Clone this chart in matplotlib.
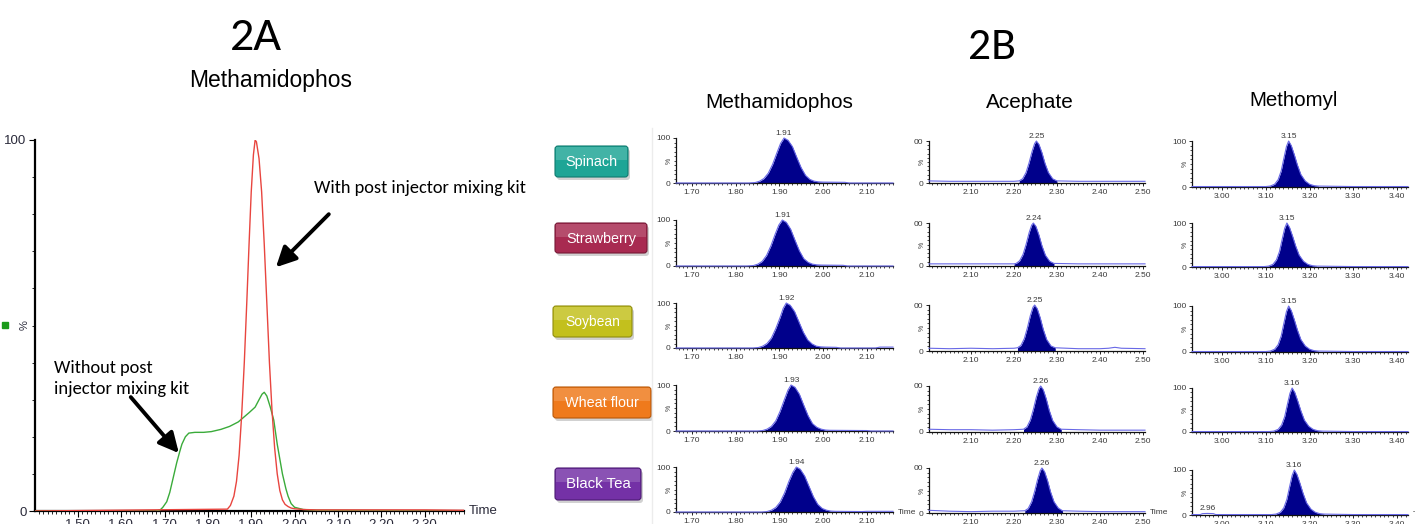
import matplotlib
matplotlib.use('Agg')
import matplotlib.pyplot as plt
from matplotlib import font_manager
from matplotlib.patches import FancyBboxPatch, Rectangle
from matplotlib.ticker import MultipleLocator
import numpy as np

# ---------------- DATA ----------------
# 2A : Methamidophos chromatograms (time in min, intensity in %)
A_GREEN_T = [1.401, 1.68, 1.69, 1.696, 1.705, 1.712, 1.72, 1.728, 1.735, 1.74, 1.748, 1.756, 1.77, 1.79,
             1.808, 1.83, 1.85, 1.87, 1.88, 1.895, 1.909, 1.918, 1.925, 1.93, 1.936, 1.944, 1.952, 1.96,
             1.966, 1.972, 1.98, 1.985, 1.992, 2.0, 2.02, 2.05, 2.391]
A_GREEN_Y = [0, 0, 0.3, 1, 2.5, 5, 9, 13, 16, 18, 20, 21, 21.2, 21.2,
             21.4, 22, 22.8, 24, 25, 26.5, 28, 30, 31.5, 32, 31, 28, 24.5, 18,
             14, 10, 6, 4, 2, 1, 0.4, 0.2, 0]
A_RED_T = [1.401, 1.845, 1.852, 1.86, 1.866, 1.872, 1.878, 1.884, 1.89, 1.895, 1.90, 1.905, 1.909,
           1.912, 1.918, 1.924, 1.93, 1.936, 1.942, 1.948, 1.954, 1.96, 1.966, 1.972, 1.978, 1.985,
           1.992, 2.0, 2.02, 2.05, 2.30, 2.391]
A_RED_Y = [0, 0.5, 1.5, 4, 8, 15, 26, 40, 57, 72, 86, 96, 100,
           99.5, 95, 86, 72, 56, 40, 27, 17, 10, 5.5, 3, 1.8, 1.2,
           0.8, 0.6, 0.4, 0.3, 0.3, 0.2]
A_XTICKS = [1.50, 1.60, 1.70, 1.80, 1.90, 2.00, 2.10, 2.20, 2.30]

# 2B : samples and compounds
SAMPLES = ['Spinach', 'Strawberry', 'Soybean', 'Wheat flour', 'Black Tea']
COMPOUNDS = ['Methamidophos', 'Acephate', 'Methomyl']

# Methamidophos
MET_SPI_T = [1.664, 1.83, 1.845, 1.855, 1.865, 1.875, 1.885, 1.895, 1.903, 1.911, 1.92, 1.93, 1.94, 1.95, 1.96, 1.97, 1.98, 1.99, 2.00, 2.05, 2.06, 2.16]
MET_SPI_Y = [0, 0, 1, 4, 10, 22, 42, 68, 88, 100, 95, 81, 57, 34, 17, 8, 4, 2.5, 2, 1.5, 0, 0]
MET_STR_T = [1.664, 1.826, 1.841, 1.851, 1.861, 1.871, 1.881, 1.891, 1.899, 1.907, 1.916, 1.926, 1.936, 1.946, 1.956, 1.966, 1.976, 1.986, 1.996, 2.046, 2.056, 2.16]
MET_STR_Y = [0, 0, 1, 4, 10, 23, 44, 70, 89, 100, 95, 80, 56, 33, 16, 8, 4, 2.5, 2, 1.5, 0, 0]
MET_SOY_T = [1.664, 1.84, 1.852, 1.862, 1.872, 1.882, 1.892, 1.902, 1.909, 1.916, 1.925, 1.935, 1.945, 1.955, 1.965, 1.975, 1.985, 1.995, 2.005, 2.03, 2.04, 2.12, 2.13, 2.16]
MET_SOY_Y = [0, 0, 1, 4, 10, 22, 43, 68, 88, 100, 95, 81, 58, 35, 18, 9, 4, 2.5, 2, 1.5, 0, 0, 2, 2]
MET_WHE_T = [1.664, 1.85, 1.862, 1.872, 1.882, 1.892, 1.902, 1.912, 1.92, 1.927, 1.936, 1.946, 1.956, 1.966, 1.976, 1.986, 1.996, 2.006, 2.016, 2.10, 2.11, 2.16]
MET_WHE_Y = [0, 0, 1, 4, 10, 22, 43, 69, 89, 100, 95, 80, 56, 33, 16, 8, 4, 2, 1.5, 1, 0, 0]
MET_BLK_T = [1.664, 1.86, 1.872, 1.882, 1.892, 1.902, 1.912, 1.922, 1.931, 1.939, 1.948, 1.958, 1.968, 1.978, 1.988, 1.998, 2.008, 2.018, 2.028, 2.09, 2.10, 2.16]
MET_BLK_Y = [0, 0, 1, 4, 10, 22, 42, 68, 88, 100, 95, 80, 57, 34, 17, 8, 4, 2, 1.5, 1, 1.5, 1.5]

# Acephate
ACE_SPI_T = [2.002, 2.05, 2.10, 2.15, 2.20, 2.212, 2.22, 2.228, 2.235, 2.242, 2.248, 2.252, 2.258, 2.265, 2.272, 2.28, 2.29, 2.30, 2.35, 2.40, 2.45, 2.505]
ACE_SPI_Y = [5, 4, 4, 4, 4, 5, 10, 25, 48, 75, 94, 100, 92, 72, 47, 25, 10, 5, 4, 4, 4, 4]
ACE_STR_T = [2.002, 2.05, 2.10, 2.15, 2.20, 2.205, 2.213, 2.221, 2.228, 2.235, 2.241, 2.245, 2.251, 2.258, 2.265, 2.273, 2.283, 2.293, 2.35, 2.40, 2.45, 2.505]
ACE_STR_Y = [5, 5, 5, 5, 5, 6, 12, 27, 50, 77, 95, 100, 92, 72, 47, 25, 11, 6, 5, 5, 5, 5]
ACE_SOY_T = [2.002, 2.05, 2.10, 2.15, 2.20, 2.208, 2.216, 2.224, 2.231, 2.238, 2.244, 2.248, 2.254, 2.261, 2.268, 2.276, 2.286, 2.296, 2.35, 2.40, 2.42, 2.435, 2.45, 2.505]
ACE_SOY_Y = [6, 5, 6, 5, 6, 7, 12, 27, 50, 77, 95, 100, 92, 72, 47, 25, 11, 7, 5, 5, 6, 8, 6, 5]
ACE_WHE_T = [2.002, 2.05, 2.10, 2.15, 2.20, 2.222, 2.23, 2.238, 2.245, 2.252, 2.258, 2.262, 2.268, 2.275, 2.282, 2.29, 2.30, 2.31, 2.35, 2.40, 2.45, 2.505]
ACE_WHE_Y = [6, 5, 5, 4, 5, 6, 11, 26, 49, 76, 94, 100, 92, 72, 47, 25, 11, 6, 5, 4, 4, 4]
ACE_BLK_T = [2.002, 2.05, 2.10, 2.15, 2.20, 2.225, 2.233, 2.241, 2.248, 2.255, 2.261, 2.265, 2.271, 2.278, 2.285, 2.293, 2.303, 2.313, 2.35, 2.40, 2.45, 2.505]
ACE_BLK_Y = [6, 4, 3, 4, 4, 5, 10, 25, 48, 75, 94, 100, 92, 72, 47, 25, 11, 5, 4, 3, 3, 3]

# Methomyl
MTH_SPI_T = [2.931, 3.00, 3.05, 3.10, 3.11, 3.12, 3.128, 3.135, 3.141, 3.147, 3.152, 3.158, 3.165, 3.172, 3.18, 3.19, 3.20, 3.21, 3.22, 3.30, 3.425]
MTH_SPI_Y = [1, 1, 1, 1, 2, 6, 16, 35, 62, 88, 100, 90, 70, 48, 27, 13, 6, 3, 2, 1, 1]
MTH_STR_T = [2.931, 3.00, 3.05, 3.096, 3.106, 3.116, 3.124, 3.131, 3.137, 3.143, 3.148, 3.154, 3.161, 3.168, 3.176, 3.186, 3.196, 3.206, 3.216, 3.30, 3.425]
MTH_STR_Y = [1, 1, 1, 1, 2, 6, 16, 35, 62, 88, 100, 90, 70, 48, 27, 13, 6, 3, 2, 1, 1]
MTH_SOY_T = [2.931, 3.00, 3.05, 3.10, 3.11, 3.12, 3.128, 3.135, 3.141, 3.147, 3.152, 3.158, 3.165, 3.172, 3.18, 3.19, 3.20, 3.21, 3.22, 3.30, 3.425]
MTH_SOY_Y = [1, 1, 1, 1, 2, 6, 16, 35, 62, 88, 100, 90, 70, 48, 27, 13, 6, 3, 2, 1, 1]
MTH_WHE_T = [2.931, 3.00, 3.05, 3.108, 3.118, 3.128, 3.136, 3.143, 3.149, 3.155, 3.160, 3.166, 3.173, 3.180, 3.188, 3.198, 3.208, 3.218, 3.228, 3.30, 3.425]
MTH_WHE_Y = [1, 1, 1, 1, 2, 6, 16, 35, 62, 88, 100, 90, 70, 48, 27, 13, 6, 3, 2, 1, 1]
MTH_BLK_T = [2.931, 2.95, 2.955, 2.966, 2.98, 2.985, 3.05, 3.113, 3.123, 3.133, 3.141, 3.148, 3.154, 3.160, 3.165, 3.171, 3.178, 3.185, 3.193, 3.203, 3.213, 3.223, 3.233, 3.30, 3.425]
MTH_BLK_Y = [1, 1, 3, 3.5, 3, 1, 1, 1, 2, 6, 16, 35, 62, 88, 100, 90, 70, 48, 27, 13, 6, 3, 2, 1, 1]

PANEL_T = [[MET_SPI_T, ACE_SPI_T, MTH_SPI_T],
           [MET_STR_T, ACE_STR_T, MTH_STR_T],
           [MET_SOY_T, ACE_SOY_T, MTH_SOY_T],
           [MET_WHE_T, ACE_WHE_T, MTH_WHE_T],
           [MET_BLK_T, ACE_BLK_T, MTH_BLK_T]]
PANEL_Y = [[MET_SPI_Y, ACE_SPI_Y, MTH_SPI_Y],
           [MET_STR_Y, ACE_STR_Y, MTH_STR_Y],
           [MET_SOY_Y, ACE_SOY_Y, MTH_SOY_Y],
           [MET_WHE_Y, ACE_WHE_Y, MTH_WHE_Y],
           [MET_BLK_Y, ACE_BLK_Y, MTH_BLK_Y]]
# retention-time labels (label, apex time)
PEAK_LABELS = [[('1.91', 1.911), ('2.25', 2.252), ('3.15', 3.152)],
               [('1.91', 1.907), ('2.24', 2.245), ('3.15', 3.148)],
               [('1.92', 1.916), ('2.25', 2.248), ('3.15', 3.152)],
               [('1.93', 1.927), ('2.26', 2.262), ('3.16', 3.160)],
               [('1.94', 1.939), ('2.26', 2.265), ('3.16', 3.165)]]
EXTRA_LABELS = [(4, 2, '2.96', 2.966, 3.5)]
# integrated (filled) windows
FILL_WIN = [[(1.84, 2.06), (2.208, 2.30), (3.10, 3.22)],
            [(1.836, 2.056), (2.20, 2.293), (3.096, 3.216)],
            [(1.845, 2.04), (2.204, 2.296), (3.10, 3.22)],
            [(1.855, 2.11), (2.222, 2.31), (3.108, 3.228)],
            [(1.865, 2.10), (2.225, 2.313), (3.113, 3.233)]]
COL_XLIM = [(1.664, 2.160), (2.002, 2.505), (2.931, 3.425)]
COL_XTICKS = [[1.70, 1.80, 1.90, 2.00, 2.10],
              [2.10, 2.20, 2.30, 2.40, 2.50],
              [3.00, 3.10, 3.20, 3.30, 3.40]]
COL_YTOP_LABEL = ['100', '00', '100']

# ---------------- LAYOUT / STYLE ----------------
W, H = 1415, 524
fig = plt.figure(figsize=(W / 100, H / 100), dpi=100)
fig.patch.set_facecolor('white')

avail = {f.name for f in font_manager.fontManager.ttflist}
def pick(*names):
    for n in names:
        if n in avail:
            return n
    return 'DejaVu Sans'
SANS = pick('Liberation Sans', 'Arial', 'DejaVu Sans')
NARROW = pick('Liberation Sans Narrow', 'Liberation Sans', 'DejaVu Sans')
CAL = pick('Carlito', 'Lato', 'Open Sans', 'Liberation Sans')

def add_ax(l, t, r, b):
    return fig.add_axes([l / W, 1 - b / H, (r - l) / W, (b - t) / H])

overlay = fig.add_axes([0, 0, 1, 1])
overlay.set_xlim(0, W)
overlay.set_ylim(H, 0)
overlay.axis('off')
overlay.patch.set_visible(False)
overlay.set_zorder(20)

renderer = fig.canvas.get_renderer()
def fit_text(x, y, s, width, family, ha='center', va='center', color='black', **kw):
    t = overlay.text(x, y, s, fontsize=10, family=family, ha=ha, va=va, color=color, **kw)
    bb = t.get_window_extent(renderer)
    t.set_fontsize(10 * width / bb.width)
    return t

# ---------- 2A ----------
fit_text(256, 37, '2A', 52, CAL)
fit_text(271, 80, 'Methamidophos', 163, SANS)

axA = add_ax(35, 140, 464, 511)
axA.patch.set_visible(False)
axA.set_xlim(1.401, 2.391)
axA.set_ylim(0, 100)
axA.plot(A_GREEN_T, A_GREEN_Y, color='#3aab3a', lw=1.0, zorder=3)
axA.plot(A_RED_T, A_RED_Y, color='#e8453f', lw=1.0, zorder=4)
for s in ['top', 'right']:
    axA.spines[s].set_visible(False)
for s in ['left', 'bottom']:
    axA.spines[s].set_linewidth(1.6)
    axA.spines[s].set_color('black')
axA.set_xticks(A_XTICKS)
axA.set_xticklabels(['%.2f' % v for v in A_XTICKS])
axA.xaxis.set_minor_locator(MultipleLocator(0.01))
axA.set_yticks([0, 100])
axA.set_yticklabels(['0', '100'])
axA.yaxis.set_minor_locator(MultipleLocator(10))
axA.tick_params(which='major', direction='out', length=4, width=0.8, labelsize=9.5,
                labelcolor='#2a2a3a', pad=2)
axA.tick_params(which='minor', direction='out', length=2.5, width=0.6)
for lab in axA.get_xticklabels() + axA.get_yticklabels():
    lab.set_family(SANS)
axA.annotate('%', xy=(0, 0.5), xycoords='axes fraction', xytext=(-10, 0),
             textcoords='offset pixels', rotation=90, ha='center', va='center',
             fontsize=8, color='#2a2a3a', family=SANS)
axA.annotate('Time', xy=(1, 0), xycoords='axes fraction', xytext=(5, 0),
             textcoords='offset pixels', ha='left', va='center',
             fontsize=9.5, color='#2a2a3a', family=SANS)
arrow_kw = dict(arrowstyle='-|>,head_length=0.8,head_width=0.4', lw=2.8, color='black',
                mutation_scale=15, shrinkA=0, shrinkB=0)
axA.annotate('', xy=(1.957, 65.7), xytext=(2.079, 80.0), arrowprops=arrow_kw)
axA.annotate('', xy=(1.733, 15.6), xytext=(1.622, 30.7), arrowprops=arrow_kw)
fit_text(314, 188, 'With post injector mixing kit', 213, CAL, ha='left')
fit_text(54, 368, 'Without post', 99, CAL, ha='left')
fit_text(54, 389, 'injector mixing kit', 136, CAL, ha='left')
overlay.add_patch(Rectangle((2, 322), 6, 6, color='#1a9a1a'))

# ---------- 2B ----------
fit_text(992, 47, '2B', 48, CAL)
fit_text(779, 102, COMPOUNDS[0], 148, SANS)
fit_text(1030, 102, COMPOUNDS[1], 88, SANS)
fit_text(1294, 100, COMPOUNDS[2], 89, SANS)

overlay.plot([652, 652], [128, 524], color='#ececec', lw=1)

BTN = [(555, 146, 628, 177, '#1ea596', '#0e7a6f', 52),
       (555, 223, 647, 253, '#a82a51', '#761936', 70),
       (553, 306, 632, 337, '#c3c01d', '#908d0e', 55),
       (553, 387, 651, 418, '#ef7a1c', '#b8580a', 74),
       (555, 468, 641, 500, '#7431a6', '#4b1a72', 65)]
for (x0, y0, x1, y1, fc, ec, tw), name in zip(BTN, SAMPLES):
    overlay.add_patch(FancyBboxPatch((x0 + 2, y0 + 3), x1 - x0, y1 - y0,
                                     boxstyle='round,pad=0,rounding_size=3',
                                     fc='#9a9a9a', ec='none', alpha=0.45))
    overlay.add_patch(FancyBboxPatch((x0, y0), x1 - x0, y1 - y0,
                                     boxstyle='round,pad=0,rounding_size=3',
                                     fc=fc, ec=ec, lw=0.8))
    overlay.add_patch(Rectangle((x0 + 1, y0 + 1), x1 - x0 - 2, (y1 - y0) * 0.42,
                                fc='white', ec='none', alpha=0.16))
    fit_text((x0 + x1) / 2, (y0 + y1) / 2 + 0.5, name, tw, SANS, color='white')

COL_LR = [(676, 893), (929, 1145), (1192, 1408)]
COL_TB = [[(138, 183), (220, 266), (303, 348), (385, 431), (467, 512)],
          [(141, 183), (223, 266), (305, 351), (386, 432), (468, 513)],
          [(141, 187), (223, 267), (306, 352), (388, 432), (470, 515)]]
NAVY = '#00008b'
LINE_BLUE = '#6868e6'
TXT = '#3a3a3a'

for r in range(5):
    for c in range(3):
        l, rr = COL_LR[c]
        t, b = COL_TB[c][r]
        ax = add_ax(l, t, rr, b)
        ax.patch.set_visible(False)
        ax.set_xlim(*COL_XLIM[c])
        ax.set_ylim(0, 100)
        tt = np.array(PANEL_T[r][c])
        yy = np.array(PANEL_Y[r][c])
        a0, a1 = FILL_WIN[r][c]
        ax.fill_between(tt, 0, yy, where=(tt >= a0) & (tt <= a1), color=NAVY, lw=0,
                        zorder=2, clip_on=False)
        ax.plot(tt, yy, color=LINE_BLUE, lw=0.8, zorder=3, clip_on=False)
        for s in ['top', 'right']:
            ax.spines[s].set_visible(False)
        for s in ['left', 'bottom']:
            ax.spines[s].set_linewidth(0.9)
            ax.spines[s].set_color('#111111')
        ax.set_xticks(COL_XTICKS[c])
        ax.set_xticklabels(['%.2f' % v for v in COL_XTICKS[c]])
        ax.xaxis.set_minor_locator(MultipleLocator(0.01))
        ax.set_yticks([0, 100])
        ax.set_yticklabels(['0', COL_YTOP_LABEL[c]])
        ax.yaxis.set_minor_locator(MultipleLocator(10))
        ax.tick_params(which='major', direction='out', length=2.5, width=0.6,
                       labelsize=6, labelcolor=TXT, pad=1.5)
        ax.tick_params(which='minor', direction='out', length=1.5, width=0.5)
        for lab in ax.get_xticklabels() + ax.get_yticklabels():
            lab.set_family(NARROW)
        ax.annotate('%', xy=(0, 0.5), xycoords='axes fraction', xytext=(-7, 0),
                    textcoords='offset pixels', rotation=90, ha='center', va='center',
                    fontsize=5, color=TXT, family=NARROW)
        lab, tx = PEAK_LABELS[r][c]
        ax.annotate(lab, xy=(tx, 100), xytext=(0, 1), textcoords='offset points',
                    ha='center', va='bottom', fontsize=6, color=TXT, family=NARROW)
        for (er, ec_, elab, et, ey) in EXTRA_LABELS:
            if er == r and ec_ == c:
                ax.annotate(elab, xy=(et, ey), xytext=(0, 1), textcoords='offset points',
                            ha='center', va='bottom', fontsize=6, color=TXT, family=NARROW)
        if r == 4:
            ax.annotate('Time', xy=(1, 0), xycoords='axes fraction', xytext=(5, 0),
                        textcoords='offset pixels', ha='left', va='center',
                        fontsize=6, color=TXT, family=NARROW)

fig.savefig('out.png', dpi=100, facecolor='white')
